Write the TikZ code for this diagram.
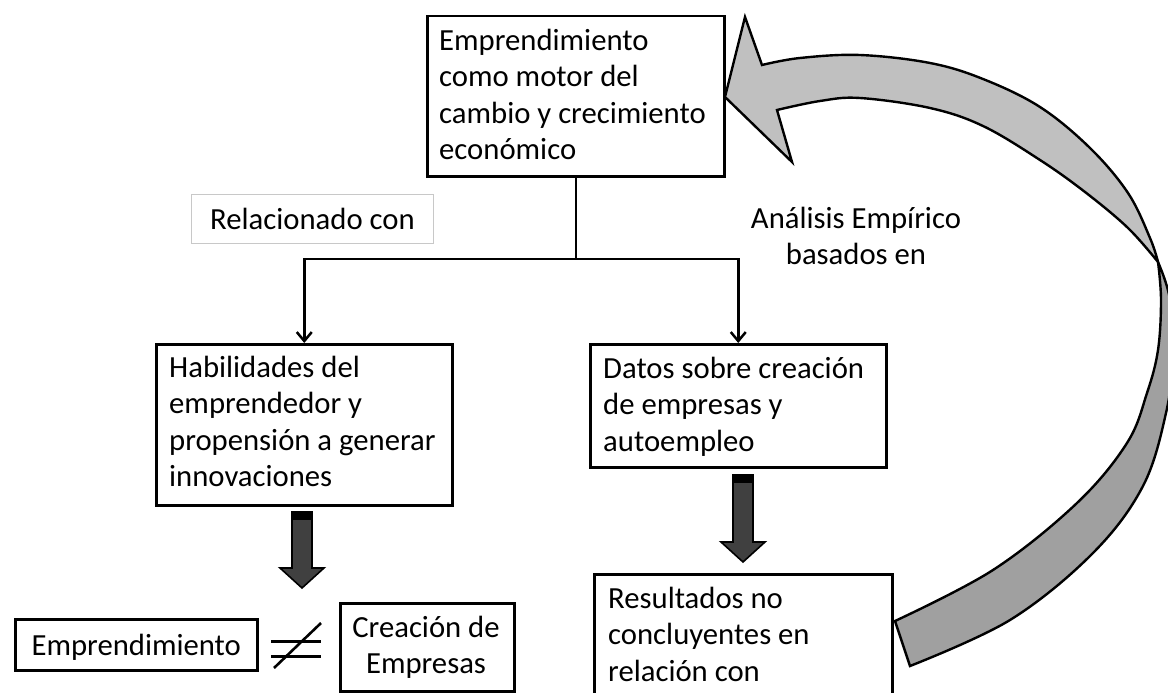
\documentclass[tikz,border=0pt]{standalone}
\usepackage{fontspec}
\setmainfont{Carlito}
\usetikzlibrary{arrows.meta}
\definecolor{lightface}{HTML}{C0C0C0}
\definecolor{darkface}{HTML}{A0A0A0}
\definecolor{fatgray}{HTML}{404040}
\definecolor{relborder}{HTML}{C8C8C8}
\newcommand{\bodyfont}{\fontsize{30.7}{36.5}\selectfont}
\begin{document}
\begin{tikzpicture}[x=1pt,y=-1pt,
  box/.style={draw, line width=2.5pt, inner sep=0pt, anchor=north west},
  txt/.style={inner sep=0pt, font=\bodyfont, align=left, anchor=north west},
  ctxt/.style={inner sep=0pt, font=\bodyfont, align=center, anchor=north},
  conn/.style={line width=2.5pt},
  tip/.style={-{Straight Barb[length=9pt,width=15pt]}},
  fat/.style={draw, line width=1.6pt, fill=fatgray, line join=miter},
  band/.style={draw, line width=2.4pt, line join=miter}]
\useasboundingbox (0,0) rectangle (1168,693);
\clip (0,0) rectangle (1168,693);

% boxes
\node[box, minimum width=297pt, minimum height=160pt] (top) at (426,15) {};
\node[box, minimum width=296pt, minimum height=161pt] (hab) at (155,343) {};
\node[box, minimum width=296pt, minimum height=123pt] (dat) at (589,343) {};
\node[box, minimum width=298pt, minimum height=200pt] (res) at (593,573) {};
\node[box, minimum width=242pt, minimum height=51pt, font=\bodyfont, text depth=0pt] (emp) at (14,618) {Emprendimiento};
\node[box, minimum width=174pt, minimum height=88pt] (cre) at (339,602) {};
\node[draw=relborder, line width=0.9pt, inner sep=0pt, anchor=north west, minimum width=242pt, minimum height=49pt, font=\bodyfont, text depth=0pt] (rel) at (191,194) {Relacionado con};

% texts
\node[txt] (toptext) at (439,24.45) {\strut Emprendimiento\\como motor del\\cambio y crecimiento\\económico};
\node[txt] (habtext) at (169,351.45) {\strut Habilidades del\\emprendedor y\\propensión a generar\\innovaciones};
\node[txt] (dattext) at (603,352.45) {\strut Datos sobre creación\\de empresas y\\autoempleo};
\node[txt] (restext) at (608,582.45) {\strut Resultados no\\concluyentes en\\relación con};
\node[ctxt] (cretext) at (426,611.45) {\strut Creación de\\Empresas};
\node[ctxt] (anatext) at (856,202.45) {\strut Análisis Empírico\\basados en};

% connectors
\coordinate (split) at (top.south |- 0,259);
\draw[conn] (top.south) -- (split);
\draw[conn, tip] (split) -| (hab.north);
\draw[conn, tip] (split) -| (dat.north);

% fat arrows
\draw[fat] (292,512) -- (312,512) -- (312,568) -- (324,568) -- (302,588) -- (280,568) -- (292,568) -- cycle;
\fill[black] (292,512) rectangle (312,520);
\draw[fat] (733,475) -- (753,475) -- (753,542) -- (765,542) -- (743,562) -- (721,542) -- (733,542) -- cycle;
\fill[black] (733,475) rectangle (753,483);

% not-equal sign
\coordinate (neq) at (296,646);
\draw[line width=3pt] (271,641) -- (321,641);
\draw[line width=3pt] (271,656) -- (321,656);
\draw[line width=2.6pt] (274,668) -- (321,623);

% curved arrow: lower (dark) face
\draw[band, fill=darkface] (1158,262)
  -- plot[smooth, tension=0.6] coordinates {(1158,262) (1161,300) (1158,350) (1147,393) (1127,443) (1077,503) (993,570) (895,621)}
  -- (910,666)
  -- plot[smooth, tension=0.6] coordinates {(910,666) (1010,620) (1093,553) (1143,486) (1166,413) (1172,360) (1170,300) (1158,262)}
  -- cycle;
% upper (light) face with head
\draw[band, fill=lightface] (762,65)
  -- plot[smooth, tension=0.6] coordinates {(762,65) (800,58) (860,55) (930,63) (983,79) (1040,107) (1090,148) (1128,193) (1150,238) (1158,262)}
  -- plot[smooth, tension=0.6] coordinates {(1158,262) (1128,228) (1085,192) (1040,160) (983,126) (930,108) (860,98) (820,101) (777,110)}
  -- (792,162) -- (725,97) -- (745,17) -- cycle;
\end{tikzpicture}
\end{document}
